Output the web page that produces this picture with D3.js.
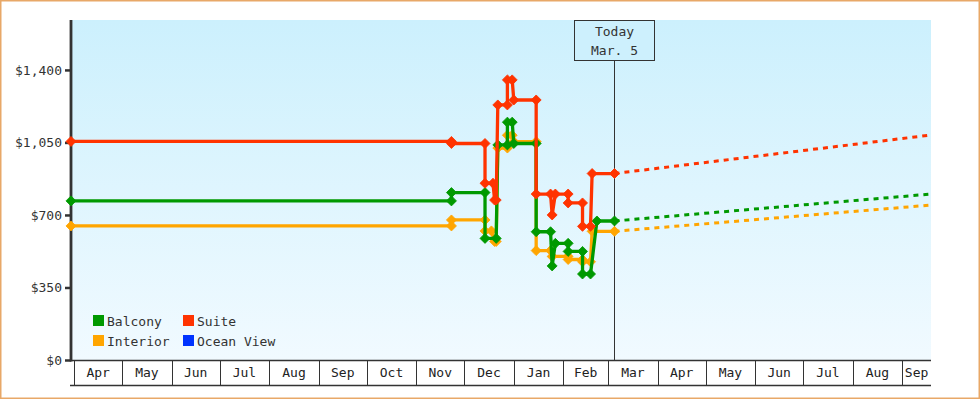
<!DOCTYPE html>
<html>
<head>
<meta charset="utf-8">
<script src="https://cdn.jsdelivr.net/npm/d3@7"></script>
<style>
  html, body { margin: 0; padding: 0; background: #ffffff; }
  svg { display: block; font-family: "DejaVu Sans Mono", "Liberation Mono", monospace; }
</style>
</head>
<body>
<svg id="chart" width="980" height="400"></svg>
<script>
// ---- Fare history per cabin category (date, price in USD) ----
const interiorDates = ["2017-03-30","2017-11-23","2017-11-23","2017-12-14","2017-12-14","2017-12-18","2017-12-20","2017-12-21","2017-12-22","2017-12-28","2017-12-28","2017-12-31","2018-01-01","2018-01-15","2018-01-15","2018-01-24","2018-01-25","2018-02-04","2018-02-04","2018-02-13","2018-02-13","2018-02-18","2018-02-19","2018-03-05"];
const interiorPrices = [647,647,676,676,623,623,572,572,1023,1023,1085,1085,1054,1054,528,528,500,500,485,485,474,474,621,621];

const balconyDates = ["2017-03-30","2017-11-23","2017-11-23","2017-12-14","2017-12-14","2017-12-21","2017-12-22","2017-12-28","2017-12-28","2017-12-31","2018-01-01","2018-01-15","2018-01-15","2018-01-24","2018-01-25","2018-01-27","2018-02-04","2018-02-04","2018-02-13","2018-02-13","2018-02-18","2018-02-22","2018-03-05"];
const balconyPrices = [768,768,808,808,587,587,1038,1038,1148,1148,1045,1045,619,619,454,563,563,524,524,415,415,671,671];

const suiteDates = ["2017-03-30","2017-11-23","2017-11-23","2017-12-14","2017-12-14","2017-12-19","2017-12-20","2017-12-21","2017-12-22","2017-12-28","2017-12-28","2017-12-31","2018-01-01","2018-01-15","2018-01-15","2018-01-24","2018-01-25","2018-01-27","2018-02-04","2018-02-04","2018-02-13","2018-02-13","2018-02-18","2018-02-19","2018-03-05"];
const suitePrices = [1055,1055,1045,1045,853,853,772,772,1231,1231,1352,1352,1255,1255,801,801,700,801,801,758,758,645,645,900,900];

const oceanViewDates = [];
const oceanViewPrices = [];

// ---- Projected fares ----
const forecastDates = ["2018-03-05","2018-09-19"];
const interiorForecast = [621, 748];
const balconyForecast = [671, 801];
const suiteForecast = [900, 1086];

// ---- Axes / labels ----
const xStart = "2017-03-30";
const xEnd = "2018-09-19";
const yMax = 1641;
const yTicks = [0, 350, 700, 1050, 1400];
const todayDate = "2018-03-05";
const todayLabel = ["Today", "Mar. 5"];
const legendNames = ["Balcony", "Suite", "Interior", "Ocean View"];

const colors = {
  "Balcony": "#009900",
  "Suite": "#ff3300",
  "Interior": "#ffa500",
  "Ocean View": "#0033ff"
};

const parse = d3.timeParse("%Y-%m-%d");
const svg = d3.select("#chart");

const plotLeft = 71, plotRight = 931, plotTop = 20, plotBottom = 360;
const stripBottom = 385;
const textColor = "#333333";

const x = d3.scaleTime().domain([parse(xStart), parse(xEnd)]).range([plotLeft, plotRight]);
const y = d3.scaleLinear().domain([0, yMax]).range([plotBottom, plotTop]);

// background gradient
const defs = svg.append("defs");
const grad = defs.append("linearGradient").attr("id", "bg").attr("x1", 0).attr("y1", 0).attr("x2", 0).attr("y2", 1);
grad.append("stop").attr("offset", "0%").attr("stop-color", "#ccf0fd");
grad.append("stop").attr("offset", "100%").attr("stop-color", "#f1faff");

// outer frame
svg.append("rect")
  .attr("x", 0.75).attr("y", 0.75).attr("width", 978.5).attr("height", 397.5)
  .attr("fill", "#ffffff").attr("stroke", "#e8a868").attr("stroke-width", 1.5);

// plot background
svg.append("rect")
  .attr("x", plotLeft + 1).attr("y", plotTop)
  .attr("width", plotRight - plotLeft - 1).attr("height", plotBottom - plotTop)
  .attr("fill", "url(#bg)");

// month strip: separators at every month start
const monthAxis = d3.axisBottom(x)
  .ticks(d3.timeMonth.every(1))
  .tickSize(stripBottom - plotBottom)
  .tickFormat("");
const mAx = svg.append("g")
  .attr("transform", `translate(0,${plotBottom})`)
  .call(monthAxis);
mAx.select(".domain").remove();
mAx.selectAll(".tick line").attr("stroke", textColor).attr("stroke-width", 1).attr("shape-rendering", "crispEdges");

svg.append("line")
  .attr("x1", plotLeft).attr("x2", plotRight).attr("y1", plotBottom + 0.5).attr("y2", plotBottom + 0.5)
  .attr("stroke", textColor).attr("stroke-width", 1.3);
svg.append("line")
  .attr("x1", plotLeft - 1).attr("x2", plotRight).attr("y1", stripBottom + 0.5).attr("y2", stripBottom + 0.5)
  .attr("stroke", textColor).attr("stroke-width", 1.3);

// month labels centred in each cell
const [d0, d1] = x.domain();
const months = d3.timeMonth.range(d3.timeMonth.floor(d0), d1);
const fmtMonth = d3.timeFormat("%b");
months.forEach(m => {
  const a = Math.max(x(m), x(d0));
  const b = Math.min(x(d3.timeMonth.offset(m, 1)), x(d1));
  if (b - a < 20) return;
  svg.append("text")
    .attr("x", (a + b) / 2).attr("y", 377)
    .attr("text-anchor", "middle")
    .attr("font-size", 13).attr("fill", "#222")
    .text(fmtMonth(m));
});

// y axis
const yAxis = d3.axisLeft(y)
  .tickValues(yTicks)
  .tickSize(6)
  .tickPadding(3)
  .tickFormat(d => "$" + d3.format(",")(d));
const yAx = svg.append("g")
  .attr("transform", `translate(${plotLeft},0)`)
  .call(yAxis);
yAx.select(".domain").remove();
yAx.selectAll(".tick line").attr("stroke", textColor).attr("stroke-width", 2.5);
yAx.selectAll(".tick text").attr("font-size", 13).attr("fill", textColor)
  .attr("font-family", "\"DejaVu Sans Mono\", monospace");
svg.append("line")
  .attr("x1", plotLeft).attr("x2", plotLeft).attr("y1", plotTop).attr("y2", plotBottom + 1.5)
  .attr("stroke", textColor).attr("stroke-width", 2.8);

// today marker line
const tx = Math.round(x(parse(todayDate))) + 0.5;
svg.append("line")
  .attr("x1", tx).attr("x2", tx).attr("y1", 60).attr("y2", plotBottom)
  .attr("stroke", textColor).attr("stroke-width", 1);

// series
const line = d3.line().x(d => x(d.date)).y(d => y(d.price));
const diamond = d3.symbol(d3.symbolSquare, 50);

function build(dates, prices) {
  return dates.map((d, i) => ({ date: parse(d), price: prices[i] }));
}

const series = [
  { name: "Ocean View", pts: build(oceanViewDates, oceanViewPrices), fc: [] },
  { name: "Interior", pts: build(interiorDates, interiorPrices), fc: build(forecastDates, interiorForecast) },
  { name: "Balcony", pts: build(balconyDates, balconyPrices), fc: build(forecastDates, balconyForecast) },
  { name: "Suite", pts: build(suiteDates, suitePrices), fc: build(forecastDates, suiteForecast) }
];

series.forEach(s => {
  const c = colors[s.name];
  const g = svg.append("g");
  if (s.fc.length) {
    g.append("path").datum(s.fc)
      .attr("d", line).attr("fill", "none")
      .attr("stroke", c).attr("stroke-width", 3)
      .attr("stroke-dasharray", "5,5");
  }
  if (s.pts.length) {
    g.append("path").datum(s.pts)
      .attr("d", line).attr("fill", "none")
      .attr("stroke", c).attr("stroke-width", 3.3)
      .attr("stroke-linejoin", "round");
    g.selectAll("path.mk").data(s.pts).enter().append("path")
      .attr("class", "mk")
      .attr("d", diamond)
      .attr("transform", d => `translate(${x(d.date)},${y(d.price)}) rotate(45)`)
      .attr("fill", c)
      .attr("stroke", c).attr("stroke-width", 0.8).attr("stroke-linejoin", "round");
  }
});

// today label box
svg.append("rect")
  .attr("x", tx - 40).attr("y", plotTop + 0.5).attr("width", 80).attr("height", 40)
  .attr("fill", "#cdf0fd").attr("stroke", textColor).attr("stroke-width", 1);
todayLabel.forEach((t, i) => {
  svg.append("text")
    .attr("x", tx).attr("y", 36 + i * 19)
    .attr("text-anchor", "middle")
    .attr("font-size", 13).attr("fill", textColor)
    .text(t);
});

// legend (two columns)
legendNames.forEach((n, i) => {
  const col = i % 2, row = Math.floor(i / 2);
  const lx = 93 + col * 90, ly = 315 + row * 20;
  svg.append("rect")
    .attr("x", lx).attr("y", ly).attr("width", 11).attr("height", 11)
    .attr("fill", colors[n]);
  svg.append("text")
    .attr("x", lx + 14).attr("y", ly + 10.5)
    .attr("font-size", 13).attr("fill", textColor)
    .text(n);
});
</script>
</body>
</html>
